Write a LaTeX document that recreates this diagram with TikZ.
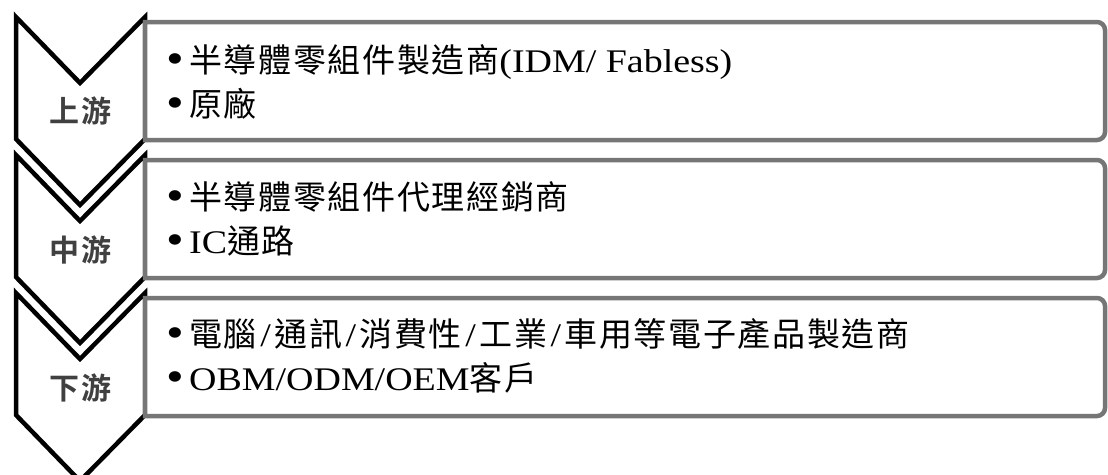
\documentclass[tikz,border=0pt]{standalone}
\usepackage{fontspec}
\setmainfont{Liberation Serif}[FakeStretch=1.15]
\newfontfamily\cjk{Noto Sans CJK TC}[BoldFont={Noto Sans CJK TC Bold},LetterSpace=5]
\definecolor{boxgray}{HTML}{767676}
\definecolor{labelgray}{HTML}{404040}
\newcommand{\bul}{\makebox[23pt][l]{\raisebox{-1.5pt}{\fontsize{44}{44}\selectfont\textbullet}}}
\newcommand{\slsep}{\kern3.5pt/\kern3.5pt}

\begin{document}
\begin{tikzpicture}[x=1pt,y=-1pt,
    chevron/.style={draw=black,line width=4.5pt,fill=white},
    box/.style={draw=boxgray,line width=4.5pt,fill=white},
    stage/.style={font=\cjk\bfseries\fontsize{30}{36}\selectfont,text=labelgray},
    item/.style={anchor=base west,inner sep=0pt,font=\fontsize{33}{40}\selectfont}]
  \useasboundingbox (0,0) rectangle (1108,474);
  % chevrons on the left
  \draw[chevron] (16,17) -- (80,83) -- (145,17) -- (145,139) -- (80,205) -- (16,139) -- cycle;
  \draw[chevron] (16,155) -- (80,221) -- (145,155) -- (145,277) -- (80,343) -- (16,277) -- cycle;
  \draw[chevron] (16,293) -- (80,359) -- (145,293) -- (145,415) -- (80,481) -- (16,415) -- cycle;
  % boxes, only the right corners rounded
  \draw[box] (145,22) -- (1097,22) arc[start angle=-90,end angle=0,radius=8]
    -- (1105,132) arc[start angle=0,end angle=90,radius=8] -- (145,140) -- cycle;
  \draw[box] (145,160) -- (1097,160) arc[start angle=-90,end angle=0,radius=8]
    -- (1105,270) arc[start angle=0,end angle=90,radius=8] -- (145,278) -- cycle;
  \draw[box] (145,298) -- (1097,298) arc[start angle=-90,end angle=0,radius=8]
    -- (1105,408) arc[start angle=0,end angle=90,radius=8] -- (145,416) -- cycle;
  % stage names
  \node[stage] (lblup) at (80.5,111) {上游};
  \node[stage] (lblmid) at (80.5,250) {中游};
  \node[stage] (lbldown) at (80.5,388) {下游};
  % items
  \node[item] (upa) at (166,72) {\bul{\cjk 半導體零組件製造商}(IDM/ Fabless)};
  \node[item] (upb) at (166,116) {\bul{\cjk 原廠}};
  \node[item] (mida) at (166,209) {\bul{\cjk 半導體零組件代理經銷商}};
  \node[item] (midb) at (166,253) {\bul IC{\cjk 通路}};
  \node[item] (downa) at (166,346) {\bul{\cjk 電腦}\slsep{\cjk 通訊}\slsep{\cjk 消費性}\slsep{\cjk 工業}\slsep{\cjk 車用等電子產品製造商}};
  \node[item] (downb) at (166,390) {\bul OBM/ODM/OEM{\cjk 客戶}};
\end{tikzpicture}
\end{document}
